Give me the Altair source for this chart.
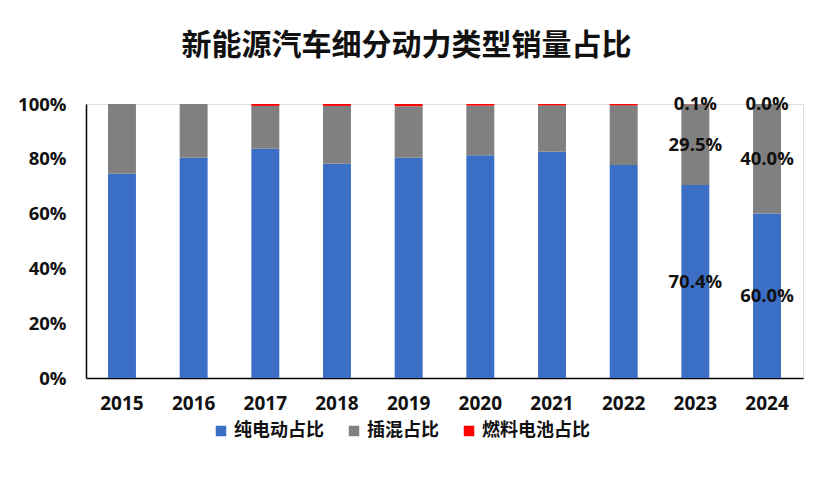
import altair as alt
import pandas as pd

years = ["2015", "2016", "2017", "2018", "2019", "2020", "2021", "2022", "2023", "2024"]
bev = [74.5, 80.4, 83.7, 78.2, 80.4, 81.3, 82.6, 77.7, 70.4, 60.0]
phev = [25.5, 19.6, 15.6, 21.1, 18.8, 18.1, 16.9, 21.8, 29.5, 40.0]
fcv = [0.0, 0.0, 0.7, 0.7, 0.8, 0.6, 0.5, 0.5, 0.1, 0.0]
series = ["纯电动占比", "插混占比", "燃料电池占比"]
colors = ["#3b6fc5", "#808080", "#ff0000"]
labeled_years = ["2023", "2024"]

rows = []
for i, yr in enumerate(years):
    start = 0.0
    for k, (name, vals) in enumerate(zip(series, [bev, phev, fcv])):
        v = vals[i]
        rows.append({
            "year": yr, "series": name, "order": k, "value": v,
            "y0": start, "y1": start + v, "mid": start + v / 2,
            "label": f"{v:.1f}%" if yr in labeled_years else "",
        })
        start += v
df = pd.DataFrame(rows)

CJK = "Noto Sans CJK SC"
NUM = "Open Sans"

x_enc = alt.X("year:N", sort=years, title=None,
              scale=alt.Scale(paddingInner=0.61, paddingOuter=0.307),
              axis=alt.Axis(labelAngle=0, ticks=False, domainColor="#000000", domainWidth=1.5,
                            labelFont=NUM, labelFontSize=19, labelFontWeight="bold",
                            labelColor="#111111", labelPadding=16))

bars = alt.Chart(df).mark_bar().encode(
    x=x_enc,
    y=alt.Y("y0:Q", title=None, scale=alt.Scale(domain=[0, 100], nice=False),
            axis=alt.Axis(values=[0, 20, 40, 60, 80, 100], labelExpr="datum.value + '%'",
                          ticks=False, grid=False, domainColor="#000000", domainWidth=1.5,
                          labelFont=NUM, labelFontSize=18.5, labelFontWeight="bold",
                          labelColor="#111111", labelPadding=20)),
    y2="y1:Q",
    color=alt.Color("series:N", sort=series,
                    scale=alt.Scale(domain=series, range=colors),
                    legend=alt.Legend(title=None, orient="none", direction="horizontal",
                                      legendX=126, legendY=318,
                                      symbolType="square", symbolSize=110, symbolStrokeWidth=0,
                                      labelFont=CJK, labelFontSize=18, labelFontWeight="bold",
                                      labelColor="#111111", columnPadding=21, labelOffset=4)),
    order=alt.Order("order:Q"),
)

texts = alt.Chart(df[df["label"] != ""]).mark_text(
    font=NUM, fontSize=18.5, fontWeight="bold", color="#111111"
).encode(
    x=alt.X("year:N", sort=years),
    y=alt.Y("mid:Q"),
    text="label:N",
)

chart = alt.layer(bars, texts).properties(
    width=717, height=274,
    title=alt.TitleParams("新能源汽车细分动力类型销量占比", font=CJK, fontSize=30,
                          fontWeight="bold", color="#111111", anchor="middle",
                          dx=-38, offset=34),
    autosize=alt.AutoSizeParams(type="none"),
    padding={"left": 78, "top": 96, "right": 10, "bottom": 90},
).configure_view(stroke=None).configure(background="#ffffff")

chart.save("out.html", embed_options={"renderer": "svg", "actions": False})
